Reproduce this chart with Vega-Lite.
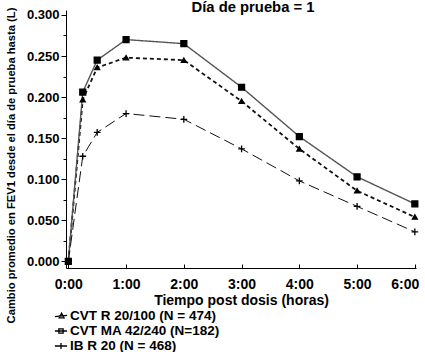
{
  "$schema": "https://vega.github.io/schema/vega-lite/v6.json",
  "width": 350,
  "height": 258,
  "autosize": "none",
  "padding": {"left": 66, "top": 10, "right": 9, "bottom": 84},
  "config": {"view": {"stroke": null}, "font": "Liberation Sans"},
  "title": {"text": "Día de prueba = 1", "fontSize": 14.8, "fontWeight": "bold", "color": "#000", "anchor": "middle", "frame": "group", "offset": -8, "dx": 12},
  "data": {"values": [
    {"t": 0, "v": 0.0, "s": "CVT R 20/100 (N = 474)"},
    {"t": 0.25, "v": 0.197, "s": "CVT R 20/100 (N = 474)"},
    {"t": 0.5, "v": 0.236, "s": "CVT R 20/100 (N = 474)"},
    {"t": 1, "v": 0.248, "s": "CVT R 20/100 (N = 474)"},
    {"t": 2, "v": 0.245, "s": "CVT R 20/100 (N = 474)"},
    {"t": 3, "v": 0.195, "s": "CVT R 20/100 (N = 474)"},
    {"t": 4, "v": 0.137, "s": "CVT R 20/100 (N = 474)"},
    {"t": 5, "v": 0.086, "s": "CVT R 20/100 (N = 474)"},
    {"t": 6, "v": 0.054, "s": "CVT R 20/100 (N = 474)"},
    {"t": 0, "v": 0.0, "s": "CVT MA 42/240 (N=182)"},
    {"t": 0.25, "v": 0.206, "s": "CVT MA 42/240 (N=182)"},
    {"t": 0.5, "v": 0.245, "s": "CVT MA 42/240 (N=182)"},
    {"t": 1, "v": 0.270, "s": "CVT MA 42/240 (N=182)"},
    {"t": 2, "v": 0.265, "s": "CVT MA 42/240 (N=182)"},
    {"t": 3, "v": 0.212, "s": "CVT MA 42/240 (N=182)"},
    {"t": 4, "v": 0.152, "s": "CVT MA 42/240 (N=182)"},
    {"t": 5, "v": 0.103, "s": "CVT MA 42/240 (N=182)"},
    {"t": 6, "v": 0.070, "s": "CVT MA 42/240 (N=182)"},
    {"t": 0, "v": 0.0, "s": "IB R 20 (N = 468)"},
    {"t": 0.25, "v": 0.128, "s": "IB R 20 (N = 468)"},
    {"t": 0.5, "v": 0.157, "s": "IB R 20 (N = 468)"},
    {"t": 1, "v": 0.180, "s": "IB R 20 (N = 468)"},
    {"t": 2, "v": 0.173, "s": "IB R 20 (N = 468)"},
    {"t": 3, "v": 0.137, "s": "IB R 20 (N = 468)"},
    {"t": 4, "v": 0.098, "s": "IB R 20 (N = 468)"},
    {"t": 5, "v": 0.067, "s": "IB R 20 (N = 468)"},
    {"t": 6, "v": 0.036, "s": "IB R 20 (N = 468)"}
  ]},
  "encoding": {
    "x": {
      "field": "t", "type": "quantitative",
      "scale": {"domain": [-0.04, 6.02], "nice": false, "zero": false},
      "axis": {
        "values": [0, 1, 2, 3, 4, 5, 6],
        "labelExpr": "datum.value + ':00'",
        "grid": false, "domainColor": "#000", "tickColor": "#000", "tickSize": -4,
        "labelFontSize": 14, "labelFontWeight": "bold", "labelColor": "#000", "labelPadding": 13,
        "labelOffset": {"condition": {"test": "datum.value == 6", "value": -10}, "value": 0},
        "title": "Tiempo post dosis (horas)", "titleFontSize": 14, "titleFontWeight": "bold", "titleColor": "#000", "titlePadding": 2
      }
    }
  },
  "layer": [
    {
      "mark": {"type": "line"},
      "encoding": {
        "y": {
          "field": "v", "type": "quantitative",
          "scale": {"domain": [-0.008, 0.306], "nice": false, "zero": false},
          "axis": {
            "orient": "left",
            "values": [0, 0.05, 0.1, 0.15, 0.2, 0.25, 0.3],
            "format": ".3f",
            "grid": false, "domainColor": "#000", "tickColor": "#000", "tickSize": 5,
            "labelFontSize": 13, "labelFontWeight": "bold", "labelColor": "#000", "labelPadding": 2,
            "title": "Cambio promedio en FEV1 desde el día de prueba hasta (L)",
            "titleFontSize": 11.2, "titleFontWeight": "bold", "titleColor": "#000",
            "titleX": -61, "titleY": 155, "titleBaseline": "top", "titleAlign": "center"
          }
        },
        "strokeDash": {"field": "s", "type": "nominal", "scale": {"domain": ["CVT R 20/100 (N = 474)", "CVT MA 42/240 (N=182)", "IB R 20 (N = 468)"], "range": [[4, 3], [1, 0], [11, 5]]}, "legend": null},
        "color": {"field": "s", "type": "nominal", "scale": {"domain": ["CVT R 20/100 (N = 474)", "CVT MA 42/240 (N=182)", "IB R 20 (N = 468)"], "range": ["#111111", "#555555", "#111111"]}, "legend": null},
        "strokeWidth": {"field": "s", "type": "nominal", "scale": {"domain": ["CVT R 20/100 (N = 474)", "CVT MA 42/240 (N=182)", "IB R 20 (N = 468)"], "range": [1.8, 1, 1.9]}, "legend": null}
      }
    },
    {
      "mark": {"type": "point", "filled": true, "fill": "#000", "stroke": "#000", "strokeWidth": 1.3, "opacity": 1},
      "encoding": {
        "y": {"field": "v", "type": "quantitative", "scale": {"domain": [-0.008, 0.306], "nice": false, "zero": false}, "axis": null},
        "shape": {"field": "s", "type": "nominal", "scale": {"domain": ["CVT R 20/100 (N = 474)", "CVT MA 42/240 (N=182)", "IB R 20 (N = 468)"], "range": ["triangle-up", "square", "M-1,0H1M0,-1V1"]}, "legend": null},
        "size": {"field": "s", "type": "ordinal", "scale": {"domain": ["CVT R 20/100 (N = 474)", "CVT MA 42/240 (N=182)", "IB R 20 (N = 468)"], "range": [25, 45, 50]}, "legend": null}
      }
    },
    {
      "mark": {"type": "point", "opacity": 0},
      "encoding": {
        "y": {
          "field": "v", "type": "quantitative",
          "scale": {"domain": [-0.008, 0.306], "nice": false, "zero": false},
          "axis": {
            "orient": "left",
            "values": [0.025, 0.075, 0.125, 0.175, 0.225, 0.275],
            "labels": false, "domain": false, "grid": false, "title": null,
            "tickColor": "#000", "tickSize": 3
          }
        },
        "shape": {
          "field": "s", "type": "nominal",
          "scale": {"domain": ["CVT R 20/100 (N = 474)", "CVT MA 42/240 (N=182)", "IB R 20 (N = 468)"], "range": ["M-1,0.1L1,-0.1M0.1,-0.45L0.5,0.3H-0.3Z", "M-1,0H1M-0.35,-0.35H0.35V0.35H-0.35Z", "M-1,0H1M0,-0.5V0.5"]},
          "legend": {
            "title": null, "orient": "none", "legendX": -12, "legendY": 299,
            "labelFontSize": 13.5, "labelFontWeight": "bold", "labelColor": "#000", "labelOffset": 2,
            "symbolSize": 150, "symbolOpacity": 1, "symbolFillColor": "#000", "symbolStrokeColor": "#000", "symbolStrokeWidth": 1.3,
            "rowPadding": 1, "padding": 0
          }
        }
      }
    }
  ],
  "resolve": {"scale": {"shape": "independent"}, "axis": {"y": "independent"}}
}
